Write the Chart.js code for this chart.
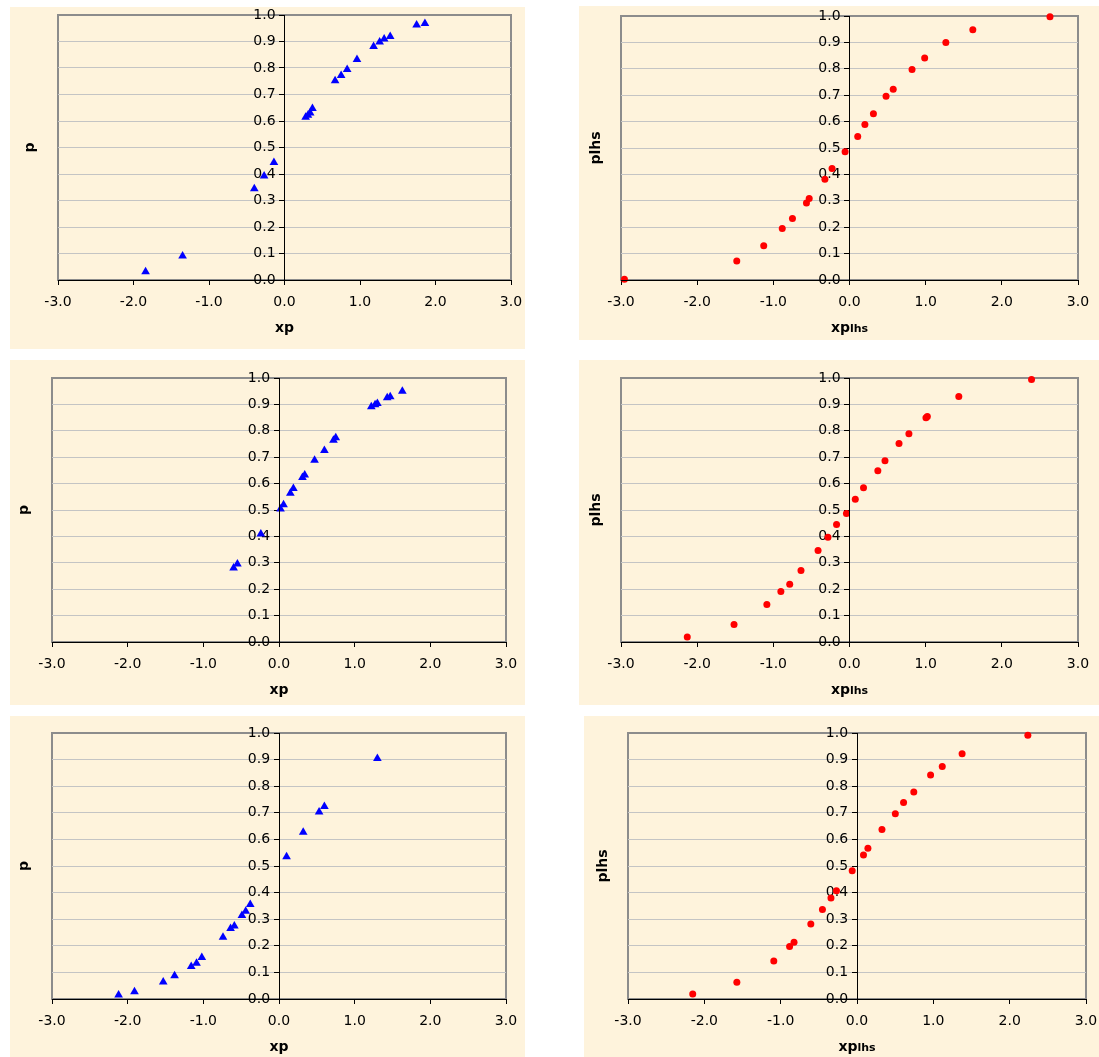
<!DOCTYPE html>
<html>
<head>
<meta charset="utf-8">
<script src="https://cdn.jsdelivr.net/npm/chart.js@4.4.0/dist/chart.umd.min.js"></script>
<style>
  body { margin: 0; background: #ffffff; }
  .panel { position: absolute; background: #fef3dc; }
  .panel canvas { display: block; }
</style>
</head>
<body>
<script>
// tick values shared by every panel
const xTickValues = [-3, -2, -1, 0, 1, 2, 3];
const yTickValues = [0, 0.1, 0.2, 0.3, 0.4, 0.5, 0.6, 0.7, 0.8, 0.9, 1];

// row 1
const xpA = [-1.84, -1.35, -0.40, -0.27, -0.14, 0.28, 0.31, 0.34, 0.37, 0.67, 0.75, 0.83, 0.96, 1.18, 1.26, 1.32, 1.40, 1.75, 1.86];
const pA = [0.031, 0.091, 0.344, 0.392, 0.443, 0.614, 0.622, 0.630, 0.647, 0.752, 0.772, 0.794, 0.832, 0.881, 0.898, 0.909, 0.919, 0.962, 0.968];
const xpLhsA = [-2.955, -1.48, -1.126, -0.883, -0.749, -0.565, -0.529, -0.323, -0.229, -0.058, 0.108, 0.202, 0.314, 0.480, 0.574, 0.821, 0.987, 1.265, 1.619, 2.632];
const pLhsA = [0.003, 0.072, 0.130, 0.195, 0.233, 0.292, 0.309, 0.382, 0.422, 0.486, 0.544, 0.589, 0.630, 0.696, 0.723, 0.797, 0.841, 0.900, 0.948, 0.997];

// row 2
const xpB = [-0.60, -0.55, -0.24, 0.02, 0.06, 0.15, 0.19, 0.31, 0.34, 0.47, 0.60, 0.72, 0.75, 1.22, 1.27, 1.30, 1.43, 1.47, 1.63];
const pB = [0.280, 0.295, 0.409, 0.504, 0.520, 0.563, 0.581, 0.623, 0.633, 0.688, 0.725, 0.764, 0.774, 0.891, 0.899, 0.903, 0.925, 0.929, 0.950];
const xpLhsB = [-2.13, -1.516, -1.085, -0.901, -0.785, -0.637, -0.413, -0.283, -0.170, -0.040, 0.076, 0.184, 0.372, 0.466, 0.650, 0.780, 1.004, 1.022, 1.435, 2.390];
const pLhsB = [0.019, 0.066, 0.142, 0.191, 0.219, 0.271, 0.347, 0.397, 0.445, 0.487, 0.541, 0.584, 0.649, 0.687, 0.752, 0.789, 0.849, 0.854, 0.930, 0.994];

// row 3
const xpC = [-2.12, -1.91, -1.53, -1.38, -1.16, -1.09, -1.02, -0.74, -0.64, -0.59, -0.49, -0.44, -0.38, 0.10, 0.32, 0.53, 0.60, 1.30];
const pC = [0.015, 0.027, 0.064, 0.087, 0.122, 0.134, 0.156, 0.232, 0.265, 0.274, 0.314, 0.330, 0.355, 0.535, 0.627, 0.703, 0.724, 0.904];
const xpLhsC = [-2.152, -1.574, -1.090, -0.883, -0.825, -0.605, -0.453, -0.341, -0.269, -0.063, 0.085, 0.143, 0.327, 0.502, 0.610, 0.744, 0.964, 1.117, 1.377, 2.238];
const pLhsC = [0.019, 0.063, 0.143, 0.197, 0.213, 0.282, 0.336, 0.380, 0.407, 0.482, 0.541, 0.567, 0.637, 0.696, 0.739, 0.778, 0.842, 0.874, 0.922, 0.992];

const FONT = '"DejaVu Sans", Verdana, sans-serif';

// box = cream panel [left, top, width, height], area = plot area [left, top, right, bottom]
const panels = [
  { xs: xpA, ys: pA, lhs: false, box: [10, 7, 515, 342], area: [58, 15, 511, 280] },
  { xs: xpLhsA, ys: pLhsA, lhs: true, box: [579, 6, 520, 334], area: [621, 16, 1078, 280] },
  { xs: xpB, ys: pB, lhs: false, box: [10, 360, 515, 345], area: [52, 378, 506, 642] },
  { xs: xpLhsB, ys: pLhsB, lhs: true, box: [579, 360, 520, 345], area: [621, 378, 1078, 642] },
  { xs: xpC, ys: pC, lhs: false, box: [10, 716, 515, 341], area: [52, 733, 506, 999] },
  { xs: xpLhsC, ys: pLhsC, lhs: true, box: [584, 716, 515, 341], area: [628, 733, 1086, 999] }
];

// gray frame around the plot area, drawn under grid and axes
const plotFrame = {
  id: 'plotFrame',
  beforeDraw(chart) {
    const a = chart.chartArea;
    const ctx = chart.ctx;
    ctx.save();
    ctx.strokeStyle = '#8c8c8c';
    ctx.lineWidth = 2;
    ctx.strokeRect(a.left, a.top, a.right - a.left, a.bottom - a.top);
    ctx.restore();
  }
};

// axis titles: y title sits at the far left, x title may carry a small "lhs"
const axisTitles = {
  id: 'axisTitles',
  afterDraw(chart, args, opts) {
    const a = chart.chartArea;
    const ctx = chart.ctx;
    ctx.save();
    ctx.fillStyle = '#000';

    ctx.font = 'bold 14px ' + FONT;
    ctx.textAlign = 'center';
    ctx.textBaseline = 'middle';
    ctx.translate(a.left - opts.yGap, (a.top + a.bottom) / 2);
    ctx.rotate(-Math.PI / 2);
    ctx.fillText(opts.y, 0, 0);
    ctx.setTransform(1, 0, 0, 1, 0, 0);

    ctx.textAlign = 'left';
    ctx.textBaseline = 'alphabetic';
    ctx.font = 'bold 14px ' + FONT;
    const w1 = ctx.measureText(opts.x).width;
    ctx.font = 'bold 11px ' + FONT;
    const w2 = opts.sub ? ctx.measureText(opts.sub).width : 0;
    const x0 = (a.left + a.right) / 2 - (w1 + w2) / 2;
    const base = a.bottom + 52;
    ctx.font = 'bold 14px ' + FONT;
    ctx.fillText(opts.x, x0, base);
    if (opts.sub) {
      ctx.font = 'bold 11px ' + FONT;
      ctx.fillText(opts.sub, x0 + w1, base);
    }
    ctx.restore();
  }
};

function makeChart(panel) {
  const [bx, by, bw, bh] = panel.box;
  const [al, at, ar, ab] = panel.area;

  const div = document.createElement('div');
  div.className = 'panel';
  div.style.left = bx + 'px';
  div.style.top = by + 'px';
  div.style.width = bw + 'px';
  div.style.height = bh + 'px';
  const canvas = document.createElement('canvas');
  canvas.width = bw;
  canvas.height = bh;
  div.appendChild(canvas);
  document.body.appendChild(div);

  const xAxisHeight = by + bh - ab;
  const points = panel.xs.map((x, i) => ({ x: x, y: panel.ys[i] }));
  const color = panel.lhs ? '#ff0000' : '#0000ff';

  new Chart(canvas, {
    type: 'scatter',
    data: {
      datasets: [{
        data: points,
        pointStyle: panel.lhs ? 'circle' : 'triangle',
        pointRadius: panel.lhs ? 3.5 : 5,
        borderWidth: 0,
        backgroundColor: color,
        borderColor: color,
        clip: false
      }]
    },
    options: {
      responsive: false,
      animation: false,
      events: [],
      layout: {
        padding: { left: al - bx, top: at - by, right: bx + bw - ar, bottom: 0 }
      },
      plugins: {
        legend: { display: false },
        tooltip: { enabled: false },
        axisTitles: {
          y: panel.lhs ? 'plhs' : 'p',
          yGap: panel.lhs ? 25 : 28,
          x: 'xp',
          sub: panel.lhs ? 'lhs' : ''
        }
      },
      scales: {
        x: {
          type: 'linear',
          min: -3,
          max: 3,
          afterBuildTicks: s => { s.ticks = xTickValues.map(v => ({ value: v })); },
          // fixed height, and no extra room asked for the end labels
          afterFit: s => { s.height = xAxisHeight; s.paddingLeft = 0; s.paddingRight = 0; },
          ticks: {
            callback: v => v.toFixed(1),
            color: '#000',
            font: { family: FONT, size: 14 },
            padding: 9,
            maxRotation: 0,
            autoSkip: false
          },
          grid: { drawOnChartArea: false, tickLength: 5, tickColor: '#000' },
          border: { color: '#000', width: 1, z: 1 }
        },
        y: {
          type: 'linear',
          min: 0,
          max: 1,
          position: { x: 0 },
          afterBuildTicks: s => { s.ticks = yTickValues.map(v => ({ value: v })); },
          afterFit: s => { s.paddingTop = 0; s.paddingBottom = 0; },
          ticks: {
            // labels sit a little left of the centred axis
            callback: v => v.toFixed(1) + '  ',
            color: '#000',
            font: { family: FONT, size: 14 },
            padding: 0,
            autoSkip: false
          },
          grid: {
            color: c => (c.tick && (c.tick.value === 0 || c.tick.value === 1)) ? 'rgba(0,0,0,0)' : '#c4c4c4',
            tickLength: 5,
            tickColor: '#000'
          },
          border: { color: '#000', width: 1, z: 1 }
        }
      }
    },
    plugins: [plotFrame, axisTitles]
  });
}

panels.forEach(makeChart);
</script>
</body>
</html>
